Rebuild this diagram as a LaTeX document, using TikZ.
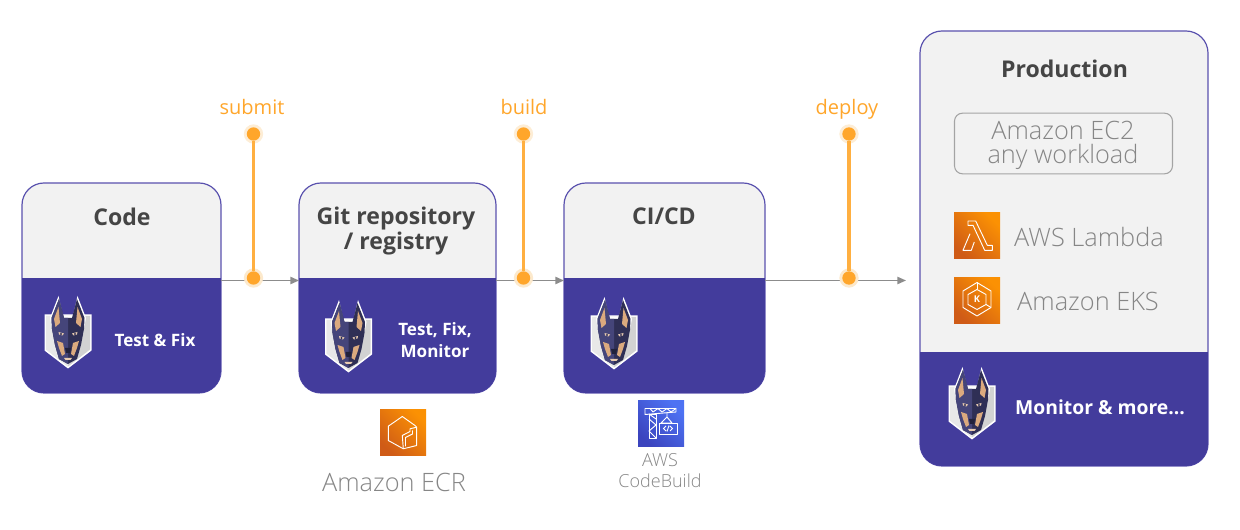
\documentclass[tikz,border=0pt]{standalone}
\usepackage{fontspec}
\setmainfont{Open Sans}
\newfontfamily\oslight{Open Sans Light}
\usetikzlibrary{arrows.meta,fit,calc}
\definecolor{snykviolet}{HTML}{433C9C}
\definecolor{snykedge}{HTML}{5A52AE}
\definecolor{cardbg}{HTML}{F2F2F2}
\definecolor{titletxt}{HTML}{454545}
\definecolor{softtxt}{HTML}{868686}
\definecolor{amber}{HTML}{FFA62B}
\definecolor{amberhalo}{HTML}{FCE9CC}
\definecolor{connectorgray}{HTML}{8C8C8C}
\definecolor{dogdark}{HTML}{2F2F55}
\definecolor{doglight}{HTML}{45457A}
\definecolor{dogtan}{HTML}{DBAA7E}
\definecolor{shieldgray}{HTML}{D2D2D2}
\definecolor{awsdeep}{HTML}{CF5B17}
\definecolor{awsbright}{HTML}{FB9103}
\definecolor{blueA}{HTML}{3B44BE}
\definecolor{blueB}{HTML}{4D72F3}
\tikzset{
  stage/.style={draw=snykedge,line width=.9pt,fill=cardbg,rounded corners=16.5pt,inner sep=0pt,outer sep=0pt},
  panel/.style={fill=snykviolet},
  conn/.style={draw=connectorgray,line width=1.1pt,-{Triangle[length=6.5pt,width=5.5pt]}},
  pin/.style={draw=amber!90!white,line width=2.4pt},
  halo/.style={circle,fill=amberhalo,draw=none,minimum size=14.5pt,inner sep=0pt},
  dot/.style={circle,fill=amber,draw=none,minimum size=10pt,inner sep=0pt},
  steplabel/.style={text=amber,anchor=base,font=\fontsize{15}{18}\selectfont,inner sep=0pt},
  cardtitle/.style={text=titletxt,font=\fontsize{17.3}{19}\selectfont\bfseries,align=center,inner sep=0pt},
  paneltext/.style={text=white,align=center,inner sep=0pt,font=\fontsize{12.8}{16.5}\selectfont\bfseries},
  softlabel/.style={text=softtxt,align=center,inner sep=0pt,font=\fontsize{19}{18}\selectfont\oslight},
  glyph/.style={draw=white,line width=.7pt,line join=round,fill=none},
  pics/dog/.style={code={
    \fill[white] (-23.5,-17.5) -- (23.5,-17.5) -- (23.5,18.5) -- (0,36.5) -- (-23.5,18.5) -- cycle;
    \fill[shieldgray] (-22,-16) -- (22,-16) -- (22,17.5) -- (0,34.5) -- (-22,17.5) -- cycle;
    \fill[white,opacity=.5] (-22,-16) -- (0,-16) -- (0,34.5) -- (-22,17.5) -- cycle;
    \fill[white] (-9.5,-36) -- (-5,-16) -- (5,-16) -- (9.5,-36) -- (18,-14) -- (15,2) -- (0,-10) -- (-15,2) -- (-18,-14) -- cycle;
    \fill[dogdark] (-9,-33) -- (-4,-14) -- (4,-14) -- (9,-33) -- (16.5,-14) -- (16,-3) -- (13,13) -- (9,27) -- (0,32) -- (-9,27) -- (-13,13) -- (-16,-3) -- (-16.5,-14) -- cycle;
    \fill[doglight] (-9,-33) -- (-4,-14) -- (0,-14) -- (0,32) -- (-9,27) -- (-13,13) -- (-16,-3) -- (-16.5,-14) -- cycle;
    \fill[dogtan] (-9.5,-25) -- (-8,-9) -- (-12.5,-5) -- (-14,-13) -- cycle;
    \fill[dogtan] (9.5,-25) -- (8,-9) -- (12.5,-5) -- (14,-13) -- cycle;
    \fill[dogtan] (-11,9) -- (-5,11) -- (-3,22) -- (-6,24) -- (-9,16) -- cycle;
    \fill[dogtan] (11,9) -- (5,11) -- (3,22) -- (6,24) -- (9,16) -- cycle;
    \fill[dogtan!60!white] (-9.5,0) -- (-4,1.5) -- (-5.5,3.5) -- (-9,2.5) -- cycle;
    \fill[dogtan!60!white] (9.5,0) -- (4,1.5) -- (5.5,3.5) -- (9,2.5) -- cycle;
    \fill[dogdark] (-7,2) circle (.8pt);
    \fill[dogdark] (7,2) circle (.8pt);
    \fill[dogdark!70!black] (-3,16) -- (3,16) -- (2,21) -- (-2,21) -- cycle;
    \fill[dogtan!60!white] (-4,26) -- (4,26) -- (2.5,28) -- (-2.5,28) -- cycle;
  }}
}
\newcommand\stagebox[6]{%
  \coordinate (#1a) at (#2,#3);
  \coordinate (#1b) at (#4,#6);
  \node[stage,fit=(#1a)(#1b)] (#1) {};
  \begin{scope}
    \clip[rounded corners=16.5pt] (#2,#3) rectangle (#4,#6);
    \fill[panel] (#2,#5) rectangle (#4,#6);
  \end{scope}%
}
\newcommand\awsorange[2]{%
  \shade[shading=axis,bottom color=awsdeep,top color=awsbright,shading angle=-45] (#1,#2) rectangle ++(46,46);
}
\begin{document}
\begin{tikzpicture}[x=.75pt,y=-.75pt]
\useasboundingbox (0,0) rectangle (1240,530);
\coordinate (lane) at (0,280.5);
\stagebox{code}{22}{183}{221}{278}{393}
\stagebox{git}{299}{183}{496}{278}{393}
\stagebox{cicd}{564}{183}{765}{278}{393}
\stagebox{prod}{920}{31}{1208}{352}{466}
\coordinate (deployend) at (906,280.5);
\draw[conn] (code.east |- lane) -- (git.west |- lane);
\draw[conn] (git.east |- lane) -- (cicd.west |- lane);
\draw[conn] (cicd.east |- lane) -- (deployend);
\node[cardtitle] (codet) at (122,216.5) {Code};
\node[cardtitle] (gitt) at (396,231) {Git repository\\/ registry};
\node[cardtitle] (cicdt) at (664,216.5) {CI/CD};
\node[cardtitle] (prodt) at (1064.5,68.5) {Production};
\node[paneltext] (codep) at (155,340) {Test \& Fix};
\node[paneltext] (gitp) at (435,340) {Test, Fix,\\Monitor};
\node[paneltext,font=\fontsize{14.5}{18}\selectfont\bfseries] (prodp) at (1100,407) {Monitor \& more...};
\pic at (68,332) {dog};
\pic at (348.5,336) {dog};
\pic at (614,333) {dog};
\pic at (972,403) {dog};
\foreach \n/\x/\t/\lx in {a/253.5/submit/252,b/523.5/build/524,c/849/deploy/847}{
  \node[halo,opacity=.8] (\n h1) at (\x,134) {};
  \node[halo] (\n h2) at (\x,278) {};
  \node[dot] (\n top) at (\x,134) {};
  \node[dot] (\n bot) at (\x,278) {};
  \draw[pin] (\n top) -- (\n bot);
  \node[steplabel] (\n lab) at (\lx,115) {\t};
}
\node[draw=softtxt!75,line width=.8pt,rounded corners=6pt,minimum width=163.5pt,minimum height=45.5pt,inner sep=0pt] (ec2) at (1063.5,143.5) {};
\node[softlabel] (ec2t) at (1063,145) {Amazon EC2\\any workload};
\awsorange{380}{409.5}
\begin{scope}[shift={(380,409.5)}]
  \draw[glyph] (23.3,39.3) -- (8.3,31) -- (8.3,16.7) -- (22.3,7) -- (35,16) -- (36.7,17.7) -- (36.7,36) -- (23.3,39.3);
  \draw[glyph] (23.3,39.3) -- (22.3,26) -- (30,22) -- (30,19.3) -- (36.7,17.7);
  \draw[glyph] (25.5,37) -- (25.5,28) -- (32.5,24.5) -- (32.5,21);
\end{scope}
\shade[shading=axis,bottom color=blueA,top color=blueB,shading angle=-45] (638,401) rectangle ++(46,46);
\begin{scope}[shift={(638,401)}]
  \draw[glyph] (7,7.5) -- (38,7.5) -- (38,11) -- (7,13.5) -- cycle;
  \draw[glyph] (11,13) -- (18,13) -- (18,37) -- (11,37) -- cycle;
  \draw[glyph] (11,18) -- (18,24) -- (11,30) -- (18,37);
  \draw[glyph] (11,13) -- (18,18);
  \draw[glyph] (12,7.5) -- (15,11) -- (20,7.5) -- (24,11) -- (29,7.5) -- (33,11) -- (38,7.5);
  \draw[glyph] (29,11) -- (29,16) -- (34,22) -- (23,22) -- (29,16);
  \draw[glyph] (21,22) rectangle (39,33);
  \draw[white,line width=.6pt] (28,25) -- (25.5,27.5) -- (28,30) (32,25) -- (34.5,27.5) -- (32,30) (31,24.5) -- (29,30.5);
\end{scope}
\node[softlabel,font=\fontsize{13.5}{16}\selectfont\oslight] (cbt) at (660,470.5) {AWS\\CodeBuild};
\node[softlabel] (ecrt) at (394,482) {Amazon ECR};
\awsorange{954}{213}
\begin{scope}[shift={(954,213)}]
  \draw[glyph] (14,8) -- (21.7,8) -- (33.3,32.3) -- (38.3,32.3) -- (38.3,37.3) -- (30.7,37.3) -- (19,12.3) -- (14,12.3) -- cycle;
  \draw[glyph] (16,20.7) -- (9,37.3) -- (17.3,37.3) -- (20.3,29);
\end{scope}
\awsorange{954}{277.5}
\begin{scope}[shift={(954,277.5)}]
  \draw[glyph] (23,5) -- (37,13.5) -- (37,30) -- (23,38.5) -- (9,30) -- (9,13.5) -- cycle;
  \draw[glyph] (23,12) -- (32,17) -- (32,27) -- (23,32) -- (14,27) -- (14,17) -- cycle;
  \draw[glyph] (23,5) -- (23,12);
  \draw[glyph] (32,27) -- (37,30);
  \node[text=white,inner sep=0pt,font=\fontsize{7}{7}\selectfont\bfseries] (ekk) at (23,22) {K};
\end{scope}
\node[softlabel] (lam) at (1089,237) {AWS Lambda};
\node[softlabel] (eks) at (1088,301) {Amazon EKS};
\end{tikzpicture}
\end{document}
